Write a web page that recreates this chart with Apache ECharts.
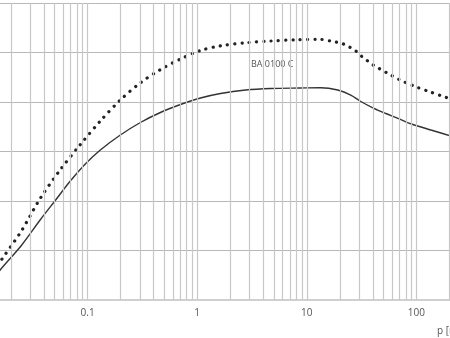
<!DOCTYPE html>
<html>
<head>
<meta charset="utf-8">
<script src="https://cdn.jsdelivr.net/npm/echarts@6/dist/echarts.min.js"></script>
<style>
html,body{margin:0;padding:0;background:#fff;}
#c{width:450px;height:338px;}
</style>
</head>
<body>
<div id="c"></div>
<script>
// pressure p (mbar) and curve values (arbitrary linear units, 6 grid intervals)
var solidP   = [0.0129,0.01592,0.02487,0.03687,0.05068,0.0695,0.0953,0.1306,0.199,0.3032,0.4618,0.7036,1.072,1.633,2.764,4.677,8.796,13.40,19.16,25.19,31.09,40.88,52.63,67.74,89.07,135.7,206.8,229.6];
var solidVal = [0.347,0.606,1.101,1.616,2.010,2.404,2.747,3.030,3.333,3.586,3.788,3.949,4.081,4.172,4.242,4.273,4.283,4.289,4.242,4.141,4.010,3.873,3.768,3.671,3.560,3.434,3.313,3.283];
var dotP     = [0.0129,0.01592,0.02487,0.03687,0.05617,0.08557,0.1306,0.199,0.3032,0.4618,0.7036,1.072,1.633,2.764,4.677,7.913,12.85,17.62,20.84,24.15,27.99,31.76,36.04,40.88,53.74,70.66,94.87,130.1,174.7,229.6];
var dotVal   = [0.457,0.772,1.394,2.048,2.628,3.137,3.616,4.040,4.388,4.655,4.867,5.040,5.135,5.196,5.232,5.257,5.267,5.220,5.184,5.119,5.030,4.919,4.828,4.739,4.590,4.447,4.323,4.212,4.113,4.030];
var xTickLabels = ['0.01','0.1','1','10','100','1000'];
var seriesLabel = 'BA 0100 C';
var axisTitle = 'p [mbar]';

function pairs(a,b){var r=[];for(var i=0;i<a.length;i++)r.push([a[i],b[i]]);return r;}
// log grid lines 1..9 per decade
var vLines=[];
for (var d=-2; d<=2; d++){
  for (var m=1; m<=9; m++){
    var v = parseFloat((m*Math.pow(10,d)).toPrecision(3));
    vLines.push({xAxis:v});
  }
}

var chart = echarts.init(document.getElementById('c'), null, {renderer:'canvas'});
chart.setOption({
  animation:false,
  grid:{left:-22, right:-76, top:3, bottom:38, containLabel:false, outerBoundsMode:'none'},
  xAxis:{
    type:'log', min:0.01, max:1000, logBase:10,
    axisLine:{show:true, lineStyle:{color:'#d0d0d0', width:2}},
    axisTick:{show:false},
    splitLine:{show:false},
    axisLabel:{color:'#555', fontSize:10, fontFamily:'Open Sans', margin:8,
      formatter:function(v){var s=String(parseFloat(v.toPrecision(3)));return xTickLabels.indexOf(s)>=0?s:'';}}
  },
  yAxis:{
    type:'value', min:0, max:6, interval:1,
    axisLine:{show:false}, axisTick:{show:false}, axisLabel:{show:false},
    splitLine:{show:true, lineStyle:{color:'#b8b8b8', width:1}}
  },
  series:[
    {type:'line', data:[], silent:true,
     markLine:{silent:true, symbol:'none', label:{show:false},
       lineStyle:{color:'#c8c8c8', type:'solid', width:1.2}, data:vLines}},
    {type:'line', data:pairs(solidP,solidVal), smooth:0.3, showSymbol:false,
     lineStyle:{color:'#333', width:1.4}},
    {type:'line', data:pairs(dotP,dotVal), smooth:0.3, showSymbol:false,
     lineStyle:{color:'#222', width:3.2, type:[0.1,7.2], cap:'round'}}
  ],
  graphic:[
    {type:'text', left:251, top:60, style:{text:seriesLabel, fill:'#555', font:'9px "Open Sans"'}},
    {type:'text', left:437, top:326, style:{text:axisTitle, fill:'#555', font:'10px "Open Sans"'}}
  ]
});
</script>
</body>
</html>
